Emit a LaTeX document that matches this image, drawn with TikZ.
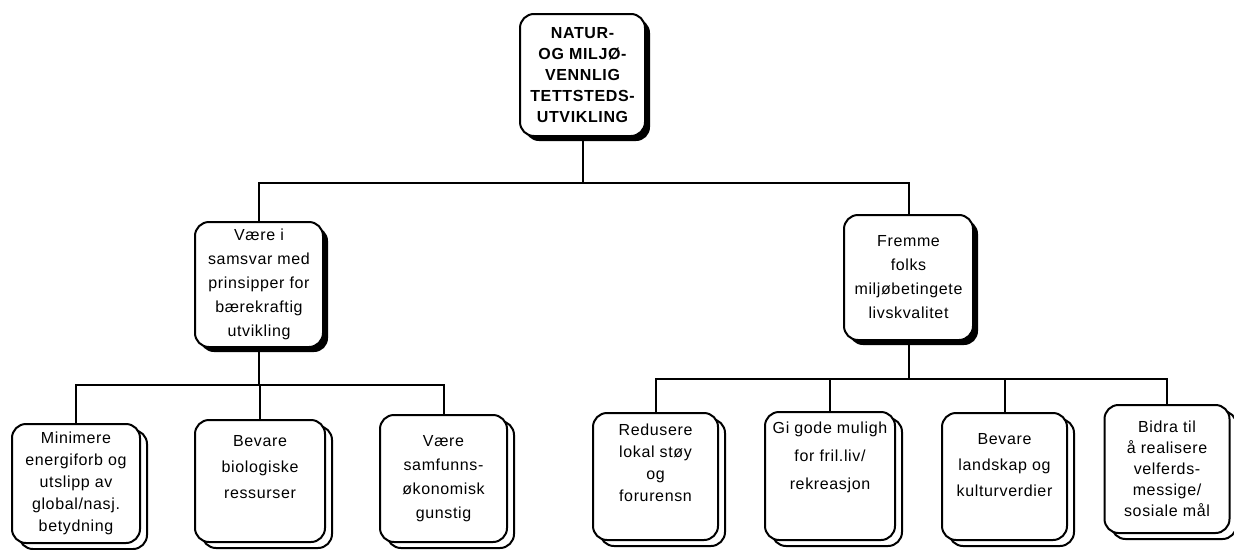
\documentclass[tikz,border=0pt]{standalone}
\usepackage{fontspec}
\setmainfont{Liberation Sans}[LetterSpace=4]
\usetikzlibrary{shadows}
\newcommand{\upshift}[2]{\raisebox{#1}[\height][\depth]{\begin{tabular}{@{}c@{}}#2\end{tabular}}}
\tikzset{
  bx/.style={draw=black, line width=2pt, fill=white, rounded corners=14pt,
    align=center, inner sep=2pt, font=\fontsize{16}{22}\selectfont},
  topbox/.style={bx, general shadow={shadow xshift=5pt, shadow yshift=-5pt, fill=black}},
  lowbox/.style={bx, general shadow={shadow xshift=7pt, shadow yshift=-6pt, fill=white, draw=black, line width=2pt}},
  conn/.style={line width=2pt},
}
\begin{document}
\begin{tikzpicture}[x=1pt,y=-1pt]
\useasboundingbox (0,0) rectangle (1234,549);
% top
\node[topbox, minimum width=125pt, minimum height=122pt, font=\fontsize{16}{21}\selectfont\bfseries] (top) at (582.5,75)
  {NATUR-\\OG MILJØ-\\VENNLIG\\TETTSTEDS-\\UTVIKLING};
% middle
\node[topbox, minimum width=128pt, minimum height=125pt, font=\fontsize{16}{24}\selectfont] (L) at (259,284.5)
  {Være i\\samsvar med\\prinsipper for\\bærekraftig\\utvikling};
\node[topbox, minimum width=129pt, minimum height=125pt, font=\fontsize{16}{24}\selectfont] (R) at (908.5,277.5)
  {Fremme\\folks\\miljøbetingete\\livskvalitet};
% bottom
\node[lowbox, minimum width=128pt, minimum height=119pt] (B1) at (76,483.5)
  {Minimere\\energiforb og\\utslipp av\\global/nasj.\\betydning};
\node[lowbox, minimum width=130pt, minimum height=122pt, font=\fontsize{16}{26}\selectfont] (B2) at (260,481)
  {\upshift{14pt}{Bevare\\biologiske\\ressurser}};
\node[lowbox, minimum width=127pt, minimum height=127pt, font=\fontsize{16}{24}\selectfont] (B3) at (443.5,478.5)
  {Være\\samfunns-\\økonomisk\\gunstig};
\node[lowbox, minimum width=125pt, minimum height=127pt] (B4) at (655.5,476.5)
  {\upshift{12pt}{Redusere\\lokal støy\\og\\forurensn}};
\node[lowbox, minimum width=130pt, minimum height=128pt, font=\fontsize{16}{28}\selectfont] (B5) at (830,476)
  {\upshift{20pt}{Gi gode muligh\\for fril.liv/\\rekreasjon}};
\node[lowbox, minimum width=125pt, minimum height=127pt, font=\fontsize{16}{26}\selectfont] (B6) at (1004.5,476.5)
  {\upshift{11pt}{Bevare\\landskap og\\kulturverdier}};
\node[lowbox, minimum width=125pt, minimum height=128pt, font=\fontsize{16}{21}\selectfont] (B7) at (1167,469)
  {Bidra til\\å realisere\\velferds-\\messige/\\sosiale mål};
% junctions
\coordinate (j0) at (582.5,183);
\coordinate (jL) at (259,385);
\coordinate (jR) at (908.5,379);
% connectors
\draw[conn] (top.south) -- (j0);
\draw[conn] (L.north) |- (j0) -| (R.north);
\draw[conn] (L.south) -- (jL);
\draw[conn] (B1.north) |- (jL) -| (B3.north);
\draw[conn] (B2.north) -- (B2.north |- jL);
\draw[conn] (R.south) -- (jR);
\draw[conn] (B4.north) |- (jR) -| (B7.north);
\draw[conn] (B5.north) -- (B5.north |- jR);
\draw[conn] (B6.north) -- (B6.north |- jR);
\end{tikzpicture}
\end{document}
